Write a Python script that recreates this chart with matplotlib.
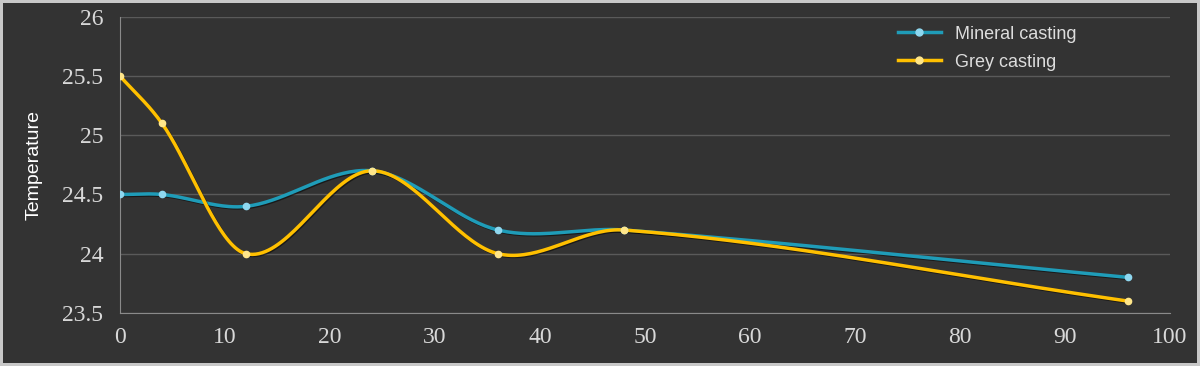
import numpy as np
import matplotlib.pyplot as plt
import matplotlib.patheffects as pe

hours = [0, 4, 12, 24, 36, 48, 96]
mineral = [24.5, 24.5, 24.4, 24.7, 24.2, 24.2, 23.8]
grey = [25.5, 25.1, 24.0, 24.7, 24.0, 24.2, 23.6]
y_ticks = [23.5, 24, 24.5, 25, 25.5, 26]
x_ticks = [0, 10, 20, 30, 40, 50, 60, 70, 80, 90, 100]


def smooth(xs, ys, n=40):
    # cubic hermite between points, tangents from neighbours (smoothed line look)
    xs = np.asarray(xs, float)
    ys = np.asarray(ys, float)
    m = np.zeros(len(xs))
    m[0] = (ys[1] - ys[0]) / (xs[1] - xs[0])
    m[-1] = (ys[-1] - ys[-2]) / (xs[-1] - xs[-2])
    for i in range(1, len(xs) - 1):
        m[i] = (ys[i+1] - ys[i-1]) / (xs[i+1] - xs[i-1])
    ox, oy = [], []
    for i in range(len(xs) - 1):
        h = xs[i+1] - xs[i]
        t = np.linspace(0, 1, n)
        h00 = 2*t**3 - 3*t**2 + 1
        h10 = t**3 - 2*t**2 + t
        h01 = -2*t**3 + 3*t**2
        h11 = t**3 - t**2
        y = h00*ys[i] + h10*h*m[i] + h01*ys[i+1] + h11*h*m[i+1]
        x = xs[i] + t*h
        if i > 0:
            x, y = x[1:], y[1:]
        ox.append(x)
        oy.append(y)
    return np.concatenate(ox), np.concatenate(oy)


fig = plt.figure(figsize=(12, 3.66), dpi=100)
fig.patch.set_facecolor('#333333')
fig.patch.set_edgecolor('#c8c8c8')
fig.patch.set_linewidth(4)
ax = fig.add_axes([0.1, 0.145, 0.875, 0.809])
ax.set_facecolor('#333333')

shadow = [pe.SimpleLineShadow(offset=(0.8, -0.8), shadow_color='black', alpha=0.5), pe.Normal()]

series = [("Mineral casting", mineral, '#1f9cb8', '#8fd8f0'),
          ("Grey casting", grey, '#ffc000', '#ffe68a')]
for name, vals, col, mcol in series:
    sx, sy = smooth(hours, vals)
    ax.plot(sx, sy, color=col, lw=2.5, path_effects=shadow, zorder=3)
    ax.plot(hours, vals, 'o', color=mcol, ms=4.5, zorder=4)
    ax.plot([], [], color=col, lw=2.5, marker='o', ms=5, mfc=mcol, mec=mcol, label=name)

ax.set_xlim(0, 100)
ax.set_ylim(23.5, 26)
ax.set_xticks(x_ticks)
ax.set_yticks(y_ticks)
ax.set_yticklabels([f"{v:g}" for v in y_ticks])
ax.grid(axis='y', color='#5a5a5a', lw=1)
ax.set_axisbelow(True)
for s in ['top', 'right']:
    ax.spines[s].set_visible(False)
for s in ['left', 'bottom']:
    ax.spines[s].set_color('#8a8a8a')
ax.tick_params(length=0, colors='#d8d8d8', labelsize=17)
ax.tick_params(axis='x', pad=10)
ax.tick_params(axis='y', pad=12)
for lab in ax.get_xticklabels() + ax.get_yticklabels():
    lab.set_family('Liberation Serif')

ax.set_ylabel("Temperature", color='white', fontsize=14, family='Liberation Sans', labelpad=14)

leg = ax.legend(loc='upper left', bbox_to_anchor=(0.725, 1.025), frameon=False,
                prop={'family': 'Liberation Sans', 'size': 13}, handlelength=2.4,
                labelspacing=0.6)
for t in leg.get_texts():
    t.set_color('#dddddd')

fig.savefig('out.png', facecolor=fig.get_facecolor(), edgecolor=fig.get_edgecolor())
